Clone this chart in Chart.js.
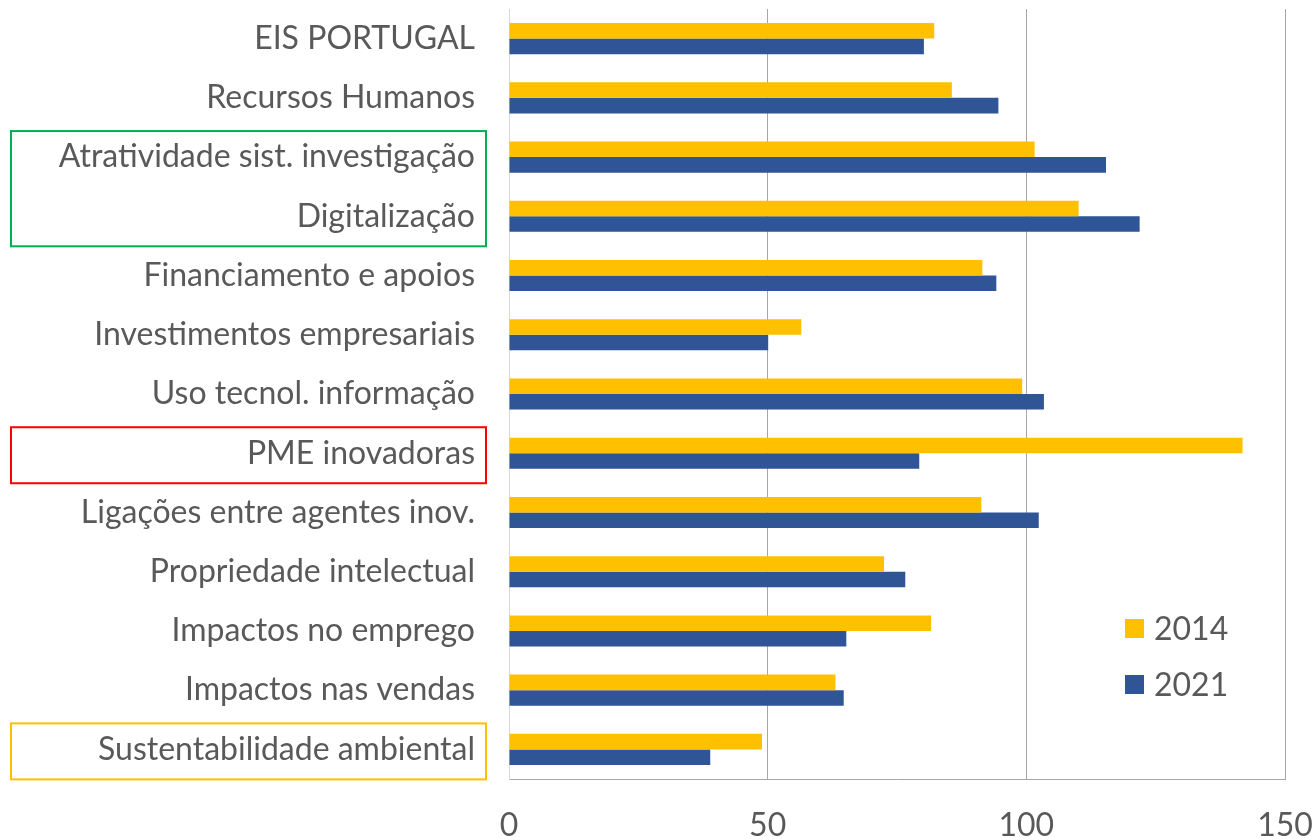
<!DOCTYPE html>
<html>
<head>
<meta charset="utf-8">
<script src="https://cdn.jsdelivr.net/npm/chart.js@4/dist/chart.umd.min.js"></script>
<style>
  html, body { margin: 0; padding: 0; background: #fff; }
  #wrap { width: 1314px; height: 840px; }
</style>
</head>
<body>
<div id="wrap"><canvas id="eis-chart"></canvas></div>
<script>
// data
const categories = [
  "EIS PORTUGAL",
  "Recursos Humanos",
  "Atratividade sist. investigação",
  "Digitalização",
  "Financiamento e apoios",
  "Investimentos empresariais",
  "Uso tecnol. informação",
  "PME inovadoras",
  "Ligações entre agentes inov.",
  "Propriedade intelectual",
  "Impactos no emprego",
  "Impactos nas vendas",
  "Sustentabilidade ambiental"
];
const values2014 = [82.2, 85.6, 101.6, 110.1, 91.5, 56.5, 99.2, 141.8, 91.3, 72.5, 81.6, 63.1, 48.9];
const values2021 = [80.2, 94.6, 115.4, 121.9, 94.2, 50.1, 103.4, 79.3, 102.4, 76.6, 65.2, 64.7, 38.9];
const seriesLabels = ["2014", "2021"];
const xTicks = [0, 50, 100, 150];

// boxes drawn round some labels
const highlights = [
  { from: 2, to: 3, color: "#00B050" },
  { from: 7, to: 7, color: "#FF0000" },
  { from: 12, to: 12, color: "#FFC000" }
];

const textColor = "#595959";
const fontFamily = "Lato, 'Noto Sans', sans-serif";

// label boxes + legend
const extrasPlugin = {
  id: "extras",
  afterDraw(chart) {
    const ctx = chart.ctx;
    const y = chart.scales.y;
    const area = chart.chartArea;
    ctx.save();
    ctx.lineWidth = 2;
    highlights.forEach(h => {
      const top = y.getPixelForValue(h.from) - 26;
      const bottom = y.getPixelForValue(h.to) + 30;
      ctx.strokeStyle = h.color;
      ctx.strokeRect(11, top, 475, bottom - top);
    });

    // legend
    ctx.font = "32px " + fontFamily;
    ctx.textBaseline = "middle";
    chart.data.datasets.forEach((ds, i) => {
      const cy = area.bottom - 150 + i * 56;
      const lx = area.right - 160;
      ctx.fillStyle = ds.backgroundColor;
      ctx.fillRect(lx, cy - 10, 19, 19);
      ctx.fillStyle = textColor;
      ctx.fillText(ds.label, lx + 29, cy + 1);
    });
    ctx.restore();
  }
};

const eisData = {
  labels: categories,
  datasets: [
    { label: seriesLabels[0], data: values2014, backgroundColor: "#FFC000" },
    { label: seriesLabels[1], data: values2021, backgroundColor: "#2F5597" }
  ]
};

const eisOptions = {
  indexAxis: "y",
  responsive: true,
  maintainAspectRatio: false,
  animation: false,
  layout: { padding: { top: 9, right: 29, left: 0, bottom: 0 } },
  datasets: {
    bar: { categoryPercentage: 0.525, barPercentage: 1.0, borderWidth: 0 }
  },
  scales: {
    x: {
      min: 0,
      max: 150,
      afterBuildTicks: (scale) => { scale.ticks = xTicks.map(v => ({ value: v })); },
      afterFit: (scale) => {
        scale.height = 61;
        scale.paddingLeft = 0;
        scale.paddingRight = 0;
      },
      grid: {
        drawTicks: false,
        color: (c) => c.index === 0 ? "#d9d9d9" : "#a6a6a6"
      },
      border: { color: "#a6a6a6" },
      ticks: { color: textColor, padding: 27, font: { family: fontFamily, size: 32 } }
    },
    y: {
      afterFit: (scale) => {
        scale.width = 509;
        scale.paddingTop = 0;
        scale.paddingBottom = 0;
      },
      grid: { display: false, drawTicks: false },
      border: { color: "#d9d9d9" },
      ticks: { color: textColor, padding: 34, font: { family: fontFamily, size: 32 } }
    }
  },
  plugins: {
    legend: { display: false },
    tooltip: { enabled: false }
  }
};

let eisChart = new Chart(document.getElementById("eis-chart"), {
  type: "bar",
  data: eisData,
  options: eisOptions,
  plugins: [extrasPlugin]
});
</script>
</body>
</html>
